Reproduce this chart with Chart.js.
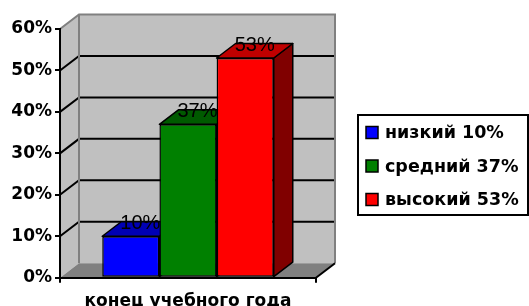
<!DOCTYPE html>
<html>
<head>
<meta charset="utf-8">
<script src="https://cdn.jsdelivr.net/npm/chart.js@4"></script>
<style>
  html, body { margin: 0; padding: 0; background: #fff; }
  canvas { display: block; }
</style>
</head>
<body>
<canvas id="chart" width="529" height="306"></canvas>
<script>
// data
const categories = ['конец учебного года'];
const levels = ['низкий', 'средний', 'высокий'];
const percents = [10, 37, 53];
const yTickMax = 60;
const yTickStep = 10;

const frontColors = ['#0000FF', '#008000', '#FF0000'];
const topColors = ['#0000B4', '#005A00', '#C00000'];
const sideColors = ['#00007F', '#004000', '#800000'];
const FONT = '"DejaVu Sans", sans-serif';
const DEPTH = { x: 19, y: -14.5 };

// walls, floor and back gridlines of the 3D box
const wallsPlugin = {
    id: 'walls',
    beforeDraw(chart) {
        const ctx = chart.ctx;
        const a = chart.chartArea;
        const y = chart.scales.y;
        const dx = DEPTH.x, dy = DEPTH.y;
        ctx.save();
        // side wall
        ctx.fillStyle = '#C0C0C0';
        ctx.beginPath();
        ctx.moveTo(a.left, a.top);
        ctx.lineTo(a.left + dx, a.top + dy);
        ctx.lineTo(a.left + dx, a.bottom + dy);
        ctx.lineTo(a.left, a.bottom);
        ctx.closePath();
        ctx.fill();
        // back wall
        ctx.fillRect(a.left + dx, a.top + dy, a.right - a.left, a.bottom - a.top);
        // floor
        ctx.fillStyle = '#808080';
        ctx.beginPath();
        ctx.moveTo(a.left, a.bottom);
        ctx.lineTo(a.left + dx, a.bottom + dy);
        ctx.lineTo(a.right + dx, a.bottom + dy);
        ctx.lineTo(a.right, a.bottom);
        ctx.closePath();
        ctx.fill();
        // gridlines
        ctx.strokeStyle = '#000';
        ctx.lineWidth = 2;
        for (let v = yTickStep; v < yTickMax; v += yTickStep) {
            const py = y.getPixelForValue(v);
            ctx.beginPath();
            ctx.moveTo(a.left, py);
            ctx.lineTo(a.left + dx, py + dy);
            ctx.lineTo(a.right + dx, py + dy);
            ctx.stroke();
        }
        // gray wall borders
        ctx.strokeStyle = '#808080';
        ctx.beginPath();
        ctx.moveTo(a.left, a.top);
        ctx.lineTo(a.left + dx, a.top + dy);
        ctx.lineTo(a.right + dx, a.top + dy);
        ctx.lineTo(a.right + dx, a.bottom + dy);
        ctx.moveTo(a.left + dx, a.top + dy);
        ctx.lineTo(a.left + dx, a.bottom + dy);
        ctx.stroke();
        // floor front right edge
        ctx.strokeStyle = '#000';
        ctx.beginPath();
        ctx.moveTo(a.right, a.bottom);
        ctx.lineTo(a.right + dx, a.bottom + dy);
        ctx.stroke();
        ctx.restore();
    },
    beforeDatasetsDraw(chart) {
        const ctx = chart.ctx;
        const dx = DEPTH.x, dy = DEPTH.y;
        ctx.save();
        ctx.strokeStyle = '#000';
        ctx.lineWidth = 1.5;
        ctx.lineJoin = 'round';
        chart.data.datasets.forEach((ds, i) => {
            chart.getDatasetMeta(i).data.forEach(el => {
                const L = el.x - el.width / 2, R = el.x + el.width / 2;
                const T = el.y, B = el.base;
                // side
                ctx.fillStyle = sideColors[i];
                ctx.beginPath();
                ctx.moveTo(R, T);
                ctx.lineTo(R + dx, T + dy);
                ctx.lineTo(R + dx, B + dy);
                ctx.lineTo(R, B);
                ctx.closePath();
                ctx.fill();
                ctx.stroke();
                // top
                ctx.fillStyle = topColors[i];
                ctx.beginPath();
                ctx.moveTo(L, T);
                ctx.lineTo(R, T);
                ctx.lineTo(R + dx, T + dy);
                ctx.lineTo(L + dx, T + dy);
                ctx.closePath();
                ctx.fill();
                ctx.stroke();
            });
        });
        ctx.restore();
    },
    afterDatasetsDraw(chart) {
        const ctx = chart.ctx;
        ctx.save();
        ctx.fillStyle = '#000';
        ctx.font = '20px "Liberation Sans", Arial, sans-serif';
        ctx.textAlign = 'center';
        ctx.textBaseline = 'alphabetic';
        chart.data.datasets.forEach((ds, i) => {
            chart.getDatasetMeta(i).data.forEach((el, j) => {
                ctx.fillText(ds.data[j] + '%', el.x + DEPTH.x / 2, el.y + DEPTH.y + 7.5);
            });
        });
        ctx.restore();
    },
    afterDraw(chart) {
        // legend box
        const ctx = chart.ctx;
        ctx.save();
        ctx.fillStyle = '#fff';
        ctx.strokeStyle = '#000';
        ctx.lineWidth = 2;
        ctx.fillRect(358, 115, 170, 100);
        ctx.strokeRect(358, 115, 170, 100);
        ctx.font = 'bold 17.5px ' + FONT;
        ctx.textBaseline = 'middle';
        ctx.textAlign = 'left';
        chart.data.datasets.forEach((ds, i) => {
            const cy = 132.5 + i * 33.5;
            ctx.fillStyle = frontColors[i];
            ctx.fillRect(366, cy - 6, 12, 12);
            ctx.lineWidth = 1.5;
            ctx.strokeRect(366, cy - 6, 12, 12);
            ctx.fillStyle = '#000';
            ctx.fillText(ds.label + ' ' + ds.data[0] + '%', 385, cy + 1);
        });
        ctx.restore();
    }
};

new Chart(document.getElementById('chart'), {
    type: 'bar',
    data: {
        labels: categories,
        datasets: levels.map((name, i) => ({
            label: name,
            data: [percents[i]],
            backgroundColor: frontColors[i],
            borderColor: '#000',
            borderWidth: 1.5,
            borderSkipped: false,
            categoryPercentage: 0.67,
            barPercentage: 1
        }))
    },
    options: {
        responsive: false,
        animation: false,
        devicePixelRatio: 1,
        layout: { padding: { top: 29, right: 213, left: 0, bottom: 0 } },
        plugins: {
            legend: { display: false },
            tooltip: { enabled: false }
        },
        scales: {
            x: {
                afterFit(scale) { scale.height = 28.3; },
                grid: { display: true, drawOnChartArea: false, drawTicks: true, tickLength: 5, color: '#000', lineWidth: 2 },
                border: { display: true, color: '#000', width: 2 },
                ticks: { color: '#000', padding: 9, font: { family: FONT, size: 17, weight: 'bold' } }
            },
            y: {
                min: 0,
                max: yTickMax,
                afterFit(scale) { scale.width = 60; },
                grid: { display: true, drawOnChartArea: false, drawTicks: true, tickLength: 5, color: '#000', lineWidth: 2 },
                border: { display: true, color: '#000', width: 2 },
                ticks: {
                    stepSize: yTickStep,
                    padding: 3,
                    color: '#000',
                    font: { family: FONT, size: 17, weight: 'bold' },
                    callback: v => v + '%'
                }
            }
        }
    },
    plugins: [wallsPlugin]
});
</script>
</body>
</html>
